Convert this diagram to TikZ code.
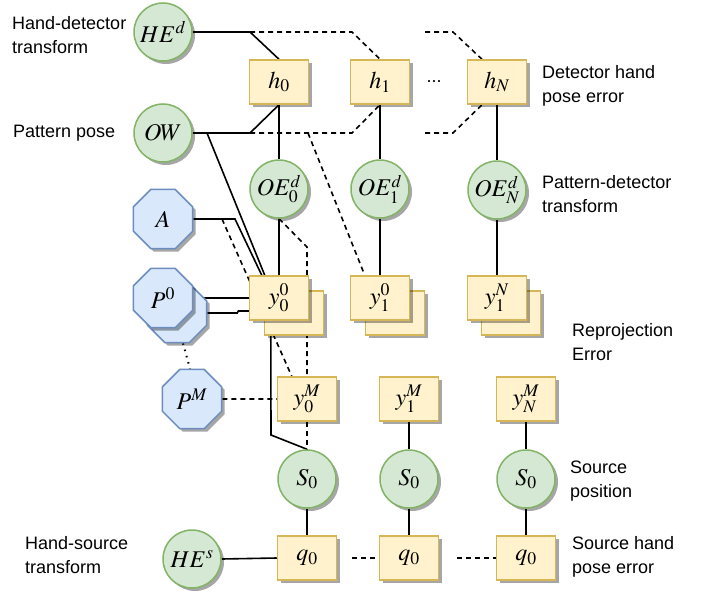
\documentclass[tikz,border=0pt]{standalone}
\usepackage{mathptmx}
\usepackage{fontspec}
\setmainfont{Liberation Sans}
\usetikzlibrary{shapes.geometric,shadows,backgrounds,calc}

\definecolor{circfill}{HTML}{D5E8D4}
\definecolor{circline}{HTML}{82B366}
\definecolor{boxfill}{HTML}{FFF2CC}
\definecolor{boxline}{HTML}{D6B656}
\definecolor{octfill}{HTML}{DAE8FC}
\definecolor{octline}{HTML}{6C8EBF}

\tikzset{
  shade3/.style={drop shadow={shadow xshift=3pt, shadow yshift=-3pt, fill=black, opacity=0.35}},
  mathtext/.style={font=\fontsize{24}{28}\selectfont},
  var/.style={circle, minimum size=58pt, inner sep=0pt, fill=circfill, draw=circline,
              line width=1.5pt, shade3, mathtext},
  factor/.style={rectangle, minimum width=59pt, minimum height=44pt, inner sep=0pt,
              fill=boxfill, draw=boxline, line width=1.5pt, shade3, mathtext},
  fixed/.style={regular polygon, regular polygon sides=8, minimum size=64pt, inner sep=0pt,
              fill=octfill, draw=octline, line width=1.5pt, shade3, mathtext},
  lab/.style={anchor=west, align=left, inner sep=0pt,
              font=\fontsize{18}{24}\selectfont},
  conn/.style={line width=1.6pt, black},
  dconn/.style={conn, dash pattern=on 5pt off 4pt},
  dotconn/.style={conn, line width=2pt, dash pattern=on 1.5pt off 5pt},
}

\begin{document}
\begin{tikzpicture}[x=1pt, y=-1pt]
\useasboundingbox (0,0) rectangle (706,594);

% --- transforms and poses on the left
\node[var] (HEd) at (163,32) {$HE^d$};
\node[var] (OW) at (163,133) {$OW$};

% --- detector hand pose error factors
\node[factor] (h0) at (279,82) {$h_0$};
\node[factor] (h1) at (380,82) {$h_1$};
\node[factor] (hN) at (497,82) {$h_N$};
\node[inner sep=0pt, font=\fontsize{18}{24}\selectfont] (dots) at (434,82) {...};

% --- pattern-detector transforms
\node[var] (OE0) at (279,189) {$OE^d_0$};
\node[var] (OE1) at (380,189) {$OE^d_1$};
\node[var] (OEN) at (497,190) {$OE^d_N$};

% --- fixed quantities
\node[fixed] (A) at (163,219) {$A$};
\node[fixed] (P0b) at (177,313) {};
\node[fixed] (P0) at (163,298) {$P^0$};
\node[fixed] (PM) at (192,399) {$P^M$};

% --- reprojection error factors (stacked)
\node[factor] (y00b) at (294,313) {};
\node[factor] (y00) at (279,298) {$y^0_0$};
\node[factor] (y10b) at (395,313) {};
\node[factor] (y10) at (380,298) {$y^0_1$};
\node[factor] (y1Nb) at (511,313) {};
\node[factor] (y1N) at (497,298) {$y^N_1$};

\node[factor] (y0M) at (307,399) {$y^M_0$};
\node[factor] (y1M) at (409,399) {$y^M_1$};
\node[factor] (yNM) at (526,399) {$y^M_N$};

% --- source positions
\node[var] (S0a) at (307,479) {$S_0$};
\node[var] (S0b) at (409,479) {$S_0$};
\node[var] (S0c) at (526,479) {$S_0$};

% --- source hand pose error
\node[var] (HEs) at (192,559) {$HE^s$};
\node[factor] (q0a) at (307,558) {$q_0$};
\node[factor] (q0b) at (409,558) {$q_0$};
\node[factor] (q0c) at (526,558) {$q_0$};

% --- captions
\node[lab] (tHEd) at (12,35) {Hand-detector\\transform};
\node[lab] (tOW) at (13,133) {Pattern pose};
\node[lab] (th) at (542,86) {Detector hand\\pose error};
\node[lab] (tOE) at (542,194) {Pattern-detector\\transform};
\node[lab] (ty) at (572,342) {Reprojection\\Error};
\node[lab] (tS) at (570,481) {Source\\position};
\node[lab] (tq) at (572,557) {Source hand\\pose error};
\node[lab] (tHEs) at (25,555) {Hand-source\\transform};

% --- connectors, kept behind the nodes
\begin{scope}[on background layer]
  \coordinate (he1) at (250,32);
  \coordinate (he2) at (352,32);
  \coordinate (he3) at (425,32);
  \coordinate (he4) at (453,32);
  \coordinate (ow1) at (250,133);
  \coordinate (ow2) at (352,133);
  \coordinate (ow3) at (425,133);
  \coordinate (ow4) at (453,133);
  \coordinate (ow5) at (308,133);
  \coordinate (ow6) at (207,133);
  \coordinate (a1) at (235,219);
  \coordinate (a2) at (222,219);
  \coordinate (oe1) at (307,247);
  \coordinate (ys1) at (271,435);
  \coordinate (qq1) at (352,558);
  \coordinate (qq2) at (457,558);

  \draw[conn] (HEd.east) -- (he1) -- (h0.north);
  \draw[dconn] (he1) -- (he2) -- (h1.north);
  \draw[dconn] (he3) -- (he4) -- ($(hN.north)+(-15,0)$);

  \draw[conn] (OW.east) -- (ow1) -- (h0.south);
  \draw[dconn] (ow1) -- (ow2) -- (h1.south);
  \draw[dconn] (ow3) -- (ow4) -- ($(hN.south)+(-15,0)$);
  \draw[dconn] (ow5) -- ($(y10.north west)+(15,0)$);
  \draw[conn] (ow6) -- ($(y00.north west)+(16,0)$);

  \draw[conn] (h0) -- (OE0) -- (y00);
  \draw[conn] (h1) -- (OE1) -- (y10);
  \draw[conn] (hN) -- (OEN) -- (y1N);

  \draw[conn] (A.east) -- (a1) -- ($(y00.north west)+(13,0)$);
  \draw[dconn] (a2) -- ($(y0M.north west)+(15,0)$);

  \draw[dconn] (OE0.south) -- (oe1) -- (y0M.north);
  \draw[dconn] (y0M.south) -- (S0a.north);
  \draw[conn] ($(y00.south west)+(22,0)$) -- (ys1) -- (S0a.north);

  \draw[conn] (P0.east) -- (y00.west);
  \draw[conn] (P0b.east) -- ++(30,0) -- ++(1,-2) -- ($(y00.west)+(0,13)$);
  \draw[dotconn] ($(P0b.south)+(6,0)$) -- ($(PM.north)+(-2,0)$);
  \draw[dconn] (PM.east) -- (y0M.west);

  \draw[conn] (y1M) -- (S0b);
  \draw[conn] (yNM) -- (S0c);
  \draw[conn] (S0a) -- (q0a);
  \draw[conn] (S0b) -- (q0b);
  \draw[conn] (S0c) -- (q0c);

  \draw[conn] (HEs.east) -- (q0a.west);
  \draw[dconn] (qq1) -- (q0b.west);
  \draw[dconn] (qq2) -- (q0c.west);
\end{scope}
\end{tikzpicture}
\end{document}
